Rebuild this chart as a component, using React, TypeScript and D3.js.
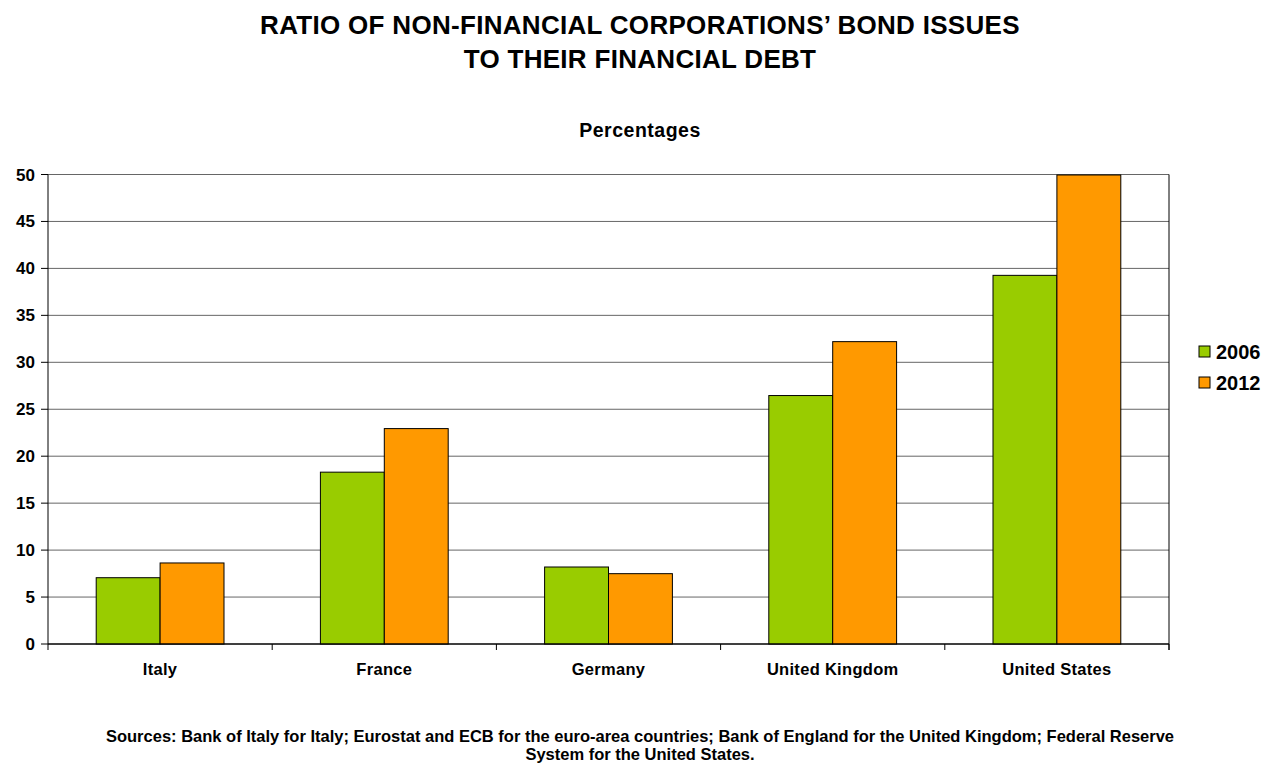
import React from "react";
import * as d3 from "d3";

const categories = ["Italy", "France", "Germany", "United Kingdom", "United States"];
const seriesNames = ["2006", "2012"];
const values2006 = [7.06, 18.3, 8.2, 26.46, 39.26];
const values2012 = [8.63, 22.94, 7.49, 32.2, 49.95];
const yTicks = [0, 5, 10, 15, 20, 25, 30, 35, 40, 45, 50];
const colors = ["#99CC00", "#FF9900"];
const titleLines = ["RATIO OF NON-FINANCIAL CORPORATIONS\u2019 BOND ISSUES", "TO THEIR FINANCIAL DEBT"];
const subtitle = "Percentages";
const footerLines = [
  "Sources: Bank of Italy for Italy; Eurostat and ECB for the euro-area countries; Bank of England for the United Kingdom; Federal Reserve",
  "System for the United States.",
];

const W = 1277;
const H = 769;
const plot = { left: 48, right: 1169, top: 174.5, bottom: 644 };
const font = "Arial, 'Liberation Sans', sans-serif";

export default function App() {
  const x0 = d3.scaleBand().domain(categories).range([plot.left, plot.right]).paddingInner(0).paddingOuter(0);
  const y = d3.scaleLinear().domain([0, 50]).range([plot.bottom, plot.top]);
  const groupW = x0.bandwidth() * 0.57;
  const x1 = d3.scaleBand().domain(seriesNames).range([0, groupW]).padding(0);
  const series = [values2006, values2012];

  return (
    <svg width={W} height={H} style={{ position: "absolute", left: 0, top: 0, display: "block", background: "#fff" }}>
      <g fontFamily={font} fontWeight="bold" fill="#000">
        {titleLines.map((t, i) => (
          <text key={t} x={640} y={34 + i * 34} textAnchor="middle" fontSize={26} letterSpacing={0.3}>
            {t}
          </text>
        ))}
        <text x={640} y={137} textAnchor="middle" fontSize={19.5} letterSpacing={0.5}>
          {subtitle}
        </text>
      </g>
      {/* gridlines */}
      {yTicks.map((t) => (
        <g key={t}>
          <line x1={plot.left} x2={plot.right} y1={y(t)} y2={y(t)} stroke={t === 0 ? "#000" : "#666"} strokeWidth={1} />
          <line x1={plot.left - 7} x2={plot.left} y1={y(t)} y2={y(t)} stroke="#000" />
          <text x={35} y={y(t) + 6} textAnchor="end" fontFamily={font} fontWeight="bold" fontSize={17}>
            {t}
          </text>
        </g>
      ))}
      {/* bars */}
      {categories.map((c, ci) => {
        const gx = (x0(c) as number) + (x0.bandwidth() - groupW) / 2;
        return (
          <g key={c}>
            {seriesNames.map((s, si) => (
              <rect
                key={s}
                x={gx + (x1(s) as number)}
                y={y(series[si][ci])}
                width={x1.bandwidth()}
                height={y(0) - y(series[si][ci])}
                fill={colors[si]}
                stroke="#000"
                strokeWidth={1}
              />
            ))}
          </g>
        );
      })}
      {/* axes */}
      <line x1={plot.left} x2={plot.left} y1={plot.top} y2={plot.bottom + 6} stroke="#000" />
      <line x1={plot.right} x2={plot.right} y1={plot.top} y2={plot.bottom + 6} stroke="#000" />
      <line x1={plot.left} x2={plot.right} y1={plot.bottom} y2={plot.bottom} stroke="#000" />
      {categories.map((c) => (
        <line key={c} x1={(x0(c) as number) + x0.bandwidth()} x2={(x0(c) as number) + x0.bandwidth()} y1={plot.bottom} y2={plot.bottom + 6} stroke="#000" />
      ))}
      {categories.map((c) => (
        <text key={c} x={(x0(c) as number) + x0.bandwidth() / 2} y={675} textAnchor="middle" fontFamily={font} fontWeight="bold" fontSize={16.5} letterSpacing={0.3}>
          {c}
        </text>
      ))}
      {/* legend */}
      {seriesNames.map((s, i) => (
        <g key={s}>
          <rect x={1199} y={346 + i * 31} width={11} height={11} fill={colors[i]} stroke="#000" />
          <text x={1216} y={359 + i * 31} fontFamily={font} fontWeight="bold" fontSize={20}>
            {s}
          </text>
        </g>
      ))}
      {/* footer */}
      {footerLines.map((t, i) => (
        <text key={i} x={640} y={742 + i * 18} textAnchor="middle" fontFamily={font} fontWeight="bold" fontSize={16.5}>
          {t}
        </text>
      ))}
    </svg>
  );
}
